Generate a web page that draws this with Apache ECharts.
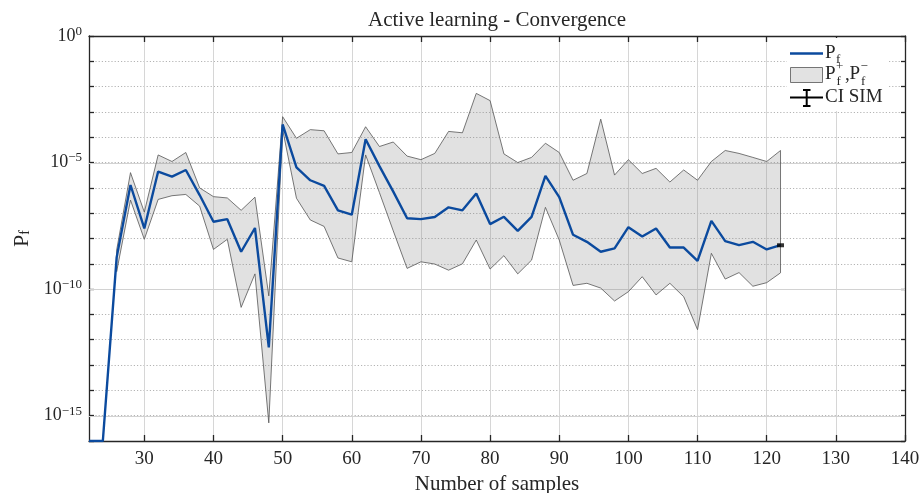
<!DOCTYPE html>
<html>
<head>
<meta charset="utf-8">
<title>Active learning - Convergence</title>
<script src="https://cdn.jsdelivr.net/npm/echarts@6/dist/echarts.min.js"></script>
<style>
  html, body { margin: 0; padding: 0; background: #fff; }
  #chart { width: 922px; height: 493px; }
</style>
</head>
<body>
<div id="chart"></div>
<script>
// Number of samples used by the active-learning loop
const samples = [22, 24, 26, 28, 30, 32, 34, 36, 38, 40, 42, 44, 46, 48, 50, 52, 54, 56, 58, 60,
  62, 64, 66, 68, 70, 72, 74, 76, 78, 80, 82, 84, 86, 88, 90, 92, 94, 96, 98, 100,
  102, 104, 106, 108, 110, 112, 114, 116, 118, 120, 122];

// Estimated failure probability P_f
const pf = [1e-16, 1e-16, 1.8e-9, 1.3e-6, 2.5e-8, 4.4e-6, 2.8e-6, 5.1e-6, 5.2e-7, 4.6e-8,
  5.8e-8, 3.0e-9, 2.6e-8, 5.0e-13, 3.2e-4, 6.5e-6, 2.0e-6, 1.2e-6, 1.3e-7, 8.7e-8,
  8.3e-5, 7.2e-6, 7.1e-7, 6.3e-8, 5.8e-8, 7.1e-8, 1.7e-7, 1.3e-7, 6.0e-7, 3.7e-8,
  7.2e-8, 2.0e-8, 7.2e-8, 3.0e-6, 4.3e-7, 1.4e-8, 7.4e-9, 3.0e-9, 4.1e-9, 2.8e-8,
  1.2e-8, 2.5e-8, 4.4e-9, 4.4e-9, 1.3e-9, 5.0e-8, 7.9e-9, 5.5e-9, 7.4e-9, 3.7e-9, 5.5e-9];

// Bounds P_f^+ and P_f^-
const bandSamples = [26, 28, 30, 32, 34, 36, 38, 40, 42, 44, 46, 48, 50, 52, 54, 56, 58, 60,
  62, 64, 66, 68, 70, 72, 74, 76, 78, 80, 82, 84, 86, 88, 90, 92, 94, 96, 98, 100,
  102, 104, 106, 108, 110, 112, 114, 116, 118, 120, 122];
const pfUpper = [3.5e-9, 4.0e-6, 1.1e-7, 2.0e-5, 1.1e-5, 2.5e-5, 1.0e-6, 4.5e-7, 4.0e-7, 1.3e-7,
  4.3e-7, 5.4e-11, 6.5e-4, 9.1e-5, 2.0e-4, 1.8e-4, 2.2e-5, 2.5e-5, 2.6e-4, 4.3e-5,
  6.5e-5, 1.8e-5, 1.3e-5, 2.3e-5, 1.7e-4, 1.5e-4, 5.4e-3, 2.8e-3, 2.2e-5, 1.0e-5,
  1.6e-5, 5.8e-5, 2.5e-5, 2.0e-6, 3.7e-6, 5.2e-4, 3.2e-6, 1.3e-5, 3.7e-6, 5.9e-6,
  1.7e-6, 5.1e-6, 2.0e-6, 1.1e-5, 3.0e-5, 2.3e-5, 1.6e-5, 1.1e-5, 3.0e-5];
const pfLower = [4.9e-10, 3.3e-7, 9.3e-9, 3.5e-7, 4.9e-7, 5.5e-7, 1.9e-7, 3.7e-9, 9.3e-9, 1.9e-11,
  4.0e-10, 5.2e-16, 2.0e-4, 3.9e-7, 5.4e-8, 3.0e-8, 1.7e-9, 1.2e-9, 2.0e-5, 6.5e-7,
  2.0e-8, 6.6e-10, 1.2e-9, 9.8e-10, 5.6e-10, 1.0e-9, 8.7e-9, 6.2e-10, 2.1e-9, 4.0e-10,
  1.4e-9, 1.7e-7, 8.7e-9, 1.4e-10, 1.7e-10, 1.1e-10, 3.4e-11, 7.9e-11, 3.1e-10, 5.9e-11,
  1.7e-10, 5.0e-11, 2.5e-12, 2.6e-9, 2.5e-10, 4.5e-10, 1.3e-10, 1.8e-10, 4.4e-10];

// Reference simulation (confidence interval collapses to a point)
const ciSamples = [122];
const ciSim = [5.4e-9];

// Axis ticks and extents
const xMin = 22, xMax = 140;
const xTickValues = [30, 40, 50, 60, 70, 80, 90, 100, 110, 120, 130, 140];
const majorDecades = [1e-5, 1e-10, 1e-15];

const FONT = "'Liberation Serif', 'Times New Roman', serif";
const INK = '#262626';
const BLUE = '#0b4a9e';

const chart = echarts.init(document.getElementById('chart'), null, { renderer: 'canvas' });

function supLabel(v) {
  const e = Math.round(Math.log10(v));
  if (e % 5 !== 0) return '';
  const exp = e < 0 ? '\u2212' + (-e) : String(e);
  return '{b|10}{s|' + exp + '}';
}

function legendText(text, x, y, size) {
  return {
    type: 'text', z: 101, silent: true,
    style: { text: text, x: x, y: y, font: size + 'px ' + FONT, fill: INK,
      textVerticalAlign: 'middle', verticalAlign: 'middle' }
  };
}

function legendLine(x1, y1, x2, y2, color, width) {
  return { type: 'line', z: 101, silent: true, shape: { x1: x1, y1: y1, x2: x2, y2: y2 },
    style: { stroke: color, lineWidth: width } };
}

const option = {
  animation: false,
  backgroundColor: '#ffffff',
  grid: { left: 89, right: 17, top: 36, bottom: 52, containLabel: false, outerBoundsMode: 'none' },
  xAxis: [
    {
      type: 'value', position: 'bottom', min: xMin, max: xMax,
      name: 'Number of samples', nameLocation: 'middle', nameGap: 30,
      nameTextStyle: { fontFamily: FONT, fontSize: 21, color: INK },
      axisLine: { show: true, lineStyle: { color: INK, width: 1.3 } },
      axisTick: { show: true, inside: true, length: 6, customValues: xTickValues, lineStyle: { color: INK, width: 1.3 } },
      axisLabel: { customValues: xTickValues, fontFamily: FONT, fontSize: 19, color: INK, margin: 9 },
      splitLine: { show: true, lineStyle: { color: '#d6d6d6', width: 1 } }
    },
    {
      type: 'value', position: 'top', min: xMin, max: xMax,
      axisLine: { show: true, lineStyle: { color: INK, width: 1.3 } },
      axisTick: { show: true, inside: true, length: 6, customValues: xTickValues, lineStyle: { color: INK, width: 1.3 } },
      axisLabel: { show: false },
      splitLine: { show: false }
    }
  ],
  yAxis: [
    {
      type: 'log', logBase: 10, position: 'left', min: 1e-16, max: 1, interval: 1,
      name: '{p|P}{f|f}', nameLocation: 'middle', nameRotate: 90, nameGap: 54,
      nameTextStyle: {
        rich: {
          p: { fontFamily: FONT, fontSize: 22, color: INK },
          f: { fontFamily: FONT, fontSize: 14, color: INK, verticalAlign: 'bottom', padding: [8, 0, 0, 0] }
        }
      },
      axisLine: { show: true, lineStyle: { color: INK, width: 1.3 } },
      axisTick: { show: true, inside: true, length: 5, lineStyle: { color: INK, width: 1.3 } },
      axisLabel: {
        margin: 7, formatter: supLabel,
        rich: {
          b: { fontFamily: FONT, fontSize: 18, color: INK, lineHeight: 22 },
          s: { fontFamily: FONT, fontSize: 13, color: INK, verticalAlign: 'top', padding: [0, 0, 8, 0] }
        }
      },
      splitLine: { show: true, lineStyle: { color: '#b4b4b4', width: 1, type: [1.2, 2] } }
    },
    {
      type: 'log', logBase: 10, position: 'right', min: 1e-16, max: 1, interval: 1,
      axisLine: { show: true, lineStyle: { color: INK, width: 1.3 } },
      axisTick: { show: true, inside: true, length: 4, lineStyle: { color: INK, width: 1.3 } },
      axisLabel: { show: false },
      splitLine: { show: false }
    }
  ],
  series: [
    {
      // P_f^+ / P_f^- band, with the solid five-decade grid lines beneath it
      type: 'custom', name: 'band', z: 2, silent: true,
      data: bandSamples.map((s, i) => [s, pfUpper[i], pfLower[i]]),
      encode: { x: 0, y: [1, 2] },
      renderItem: function (params, api) {
        if (params.dataIndex !== 0) return null;
        const children = majorDecades.map(function (v) {
          const a = api.coord([xMin, v]);
          const b = api.coord([xMax, v]);
          return {
            type: 'line',
            shape: { x1: a[0], y1: Math.round(a[1]) + 0.5, x2: b[0], y2: Math.round(b[1]) + 0.5 },
            style: { stroke: '#d2d2d2', lineWidth: 1 }
          };
        });
        const pts = [];
        for (let i = 0; i < bandSamples.length; i++) pts.push(api.coord([bandSamples[i], pfUpper[i]]));
        for (let i = bandSamples.length - 1; i >= 0; i--) pts.push(api.coord([bandSamples[i], pfLower[i]]));
        children.push({
          type: 'polygon',
          shape: { points: pts },
          style: { fill: 'rgba(128,128,128,0.24)', stroke: '#555555', lineWidth: 0.8 }
        });
        return { type: 'group', children: children };
      }
    },
    {
      type: 'line', name: 'Pf', z: 3,
      data: samples.map((s, i) => [s, pf[i]]),
      showSymbol: false, symbol: 'none',
      lineStyle: { color: BLUE, width: 2.4 },
      itemStyle: { color: BLUE }
    },
    {
      type: 'scatter', name: 'CI SIM', z: 4,
      data: ciSamples.map((s, i) => [s, ciSim[i]]),
      symbol: 'rect', symbolSize: [7, 4],
      itemStyle: { color: '#000000' }
    }
  ],
  graphic: [
    {
      type: 'text', z: 100, silent: true,
      style: { text: 'Active learning - Convergence', x: 497, y: 20, font: '21px ' + FONT, fill: INK,
        textAlign: 'center', textVerticalAlign: 'middle', align: 'center', verticalAlign: 'middle' }
    },
    // legend box
    { type: 'rect', z: 100, silent: true, shape: { x: 787, y: 38, width: 100, height: 73 }, style: { fill: '#ffffff' } },
    legendLine(790, 53.5, 823, 53.5, BLUE, 2.4),
    legendText('P', 825, 53, 19),
    legendText('f', 836, 60, 13),
    { type: 'rect', z: 101, silent: true, shape: { x: 790.5, y: 67.5, width: 32, height: 15 }, style: { fill: '#e2e2e2', stroke: '#555555', lineWidth: 0.8 } },
    legendText('P', 825, 74, 19),
    legendText('+', 836, 67, 13),
    legendText('f', 836.5, 82, 13),
    legendText(',', 845, 75, 19),
    legendText('P', 849.5, 74, 19),
    legendText('\u2212', 860.5, 67, 13),
    legendText('f', 861, 82, 13),
    legendLine(790, 97.5, 823, 97.5, '#000000', 2),
    legendLine(806.7, 90, 806.7, 106, '#000000', 2),
    legendLine(803, 90, 810.5, 90, '#000000', 2),
    legendLine(803, 106, 810.5, 106, '#000000', 2),
    legendText('CI SIM', 825, 97, 19)
  ]
};

chart.setOption(option);
</script>
</body>
</html>
